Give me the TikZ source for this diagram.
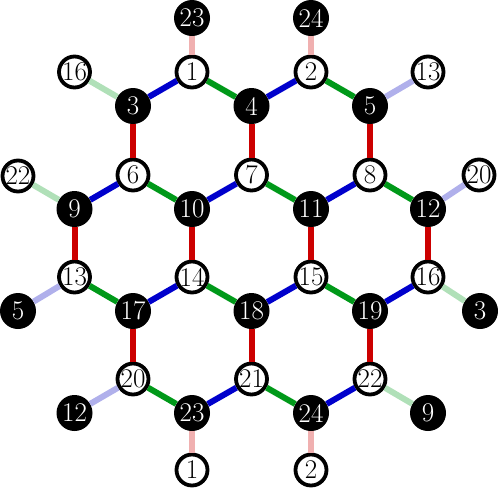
\documentclass[tikz,border=0pt]{standalone}
\usepackage{fontspec}
\setmainfont{Latin Modern Roman}
\begin{document}
\begin{tikzpicture}[x=1pt,y=-1pt,
  wn/.style={circle,draw=black,fill=white,line width=3.8pt,minimum size=31pt,inner sep=0pt,font=\fontsize{27}{27}\selectfont},
  bn/.style={circle,fill=black,text=white,minimum size=36pt,inner sep=0pt,font=\fontsize{27}{27}\selectfont},
  ered/.style={line width=6pt,draw={rgb,255:red,204;green,0;blue,0}},
  eblue/.style={line width=6pt,draw={rgb,255:red,0;green,0;blue,204}},
  egreen/.style={line width=6pt,draw={rgb,255:red,0;green,153;blue,25}},
  pred/.style={line width=6pt,draw={rgb,255:red,240;green,176;blue,176}},
  pblue/.style={line width=6pt,draw={rgb,255:red,176;green,176;blue,235}},
  pgreen/.style={line width=6pt,draw={rgb,255:red,176;green,224;blue,184}}]
\useasboundingbox (0,0) rectangle (498,491);
% lattice nodes
\node[wn] (n1) at (192,72) {1};
\node[wn] (n2) at (311,72) {2};
\node[bn] (n3) at (133,106) {3};
\node[bn] (n4) at (251.5,106) {4};
\node[bn] (n5) at (370,106) {5};
\node[wn] (n6) at (133,175) {6};
\node[wn] (n7) at (251.5,175) {7};
\node[wn] (n8) at (370,175) {8};
\node[bn] (n9) at (74.5,209) {9};
\node[bn] (n10) at (192,209) {10};
\node[bn] (n11) at (311,209) {11};
\node[bn] (n12) at (428,209) {12};
\node[wn] (n13) at (74.5,277) {13};
\node[wn] (n14) at (192,277) {14};
\node[wn] (n15) at (311,277) {15};
\node[wn] (n16) at (428,277) {16};
\node[bn] (n17) at (133,311) {17};
\node[bn] (n18) at (251.5,311) {18};
\node[bn] (n19) at (370,311) {19};
\node[wn] (n20) at (133,379) {20};
\node[wn] (n21) at (251.5,379) {21};
\node[wn] (n22) at (370,379) {22};
\node[bn] (n23) at (192,413) {23};
\node[bn] (n24) at (311,413) {24};
% pendant nodes
\node[bn] (l23) at (192,18) {23};
\node[bn] (l24) at (311,18) {24};
\node[wn] (l16) at (74.5,72) {16};
\node[wn] (l13) at (428,72) {13};
\node[wn] (l22) at (18,176) {22};
\node[wn] (l20) at (479,175) {20};
\node[bn] (l5) at (18,311) {5};
\node[bn] (l3) at (480,311) {3};
\node[bn] (l12) at (74.5,413) {12};
\node[bn] (l9) at (428,413) {9};
\node[wn] (l1) at (192,470) {1};
\node[wn] (l2) at (311,470) {2};
% edges
\draw[pred] (l23) -- (n1);
\draw[pred] (l24) -- (n2);
\draw[pgreen] (l16) -- (n3);
\draw[pblue] (l13) -- (n5);
\draw[pgreen] (l22) -- (n9);
\draw[pblue] (l20) -- (n12);
\draw[pblue] (l5) -- (n13);
\draw[pgreen] (l3) -- (n16);
\draw[pblue] (l12) -- (n20);
\draw[pgreen] (l9) -- (n22);
\draw[pred] (l1) -- (n23);
\draw[pred] (l2) -- (n24);
\draw[eblue] (n1) -- (n3);
\draw[egreen] (n1) -- (n4);
\draw[eblue] (n2) -- (n4);
\draw[egreen] (n2) -- (n5);
\draw[ered] (n3) -- (n6);
\draw[ered] (n4) -- (n7);
\draw[ered] (n5) -- (n8);
\draw[eblue] (n6) -- (n9);
\draw[egreen] (n6) -- (n10);
\draw[eblue] (n7) -- (n10);
\draw[egreen] (n7) -- (n11);
\draw[eblue] (n8) -- (n11);
\draw[egreen] (n8) -- (n12);
\draw[ered] (n9) -- (n13);
\draw[ered] (n10) -- (n14);
\draw[ered] (n11) -- (n15);
\draw[ered] (n12) -- (n16);
\draw[egreen] (n13) -- (n17);
\draw[eblue] (n14) -- (n17);
\draw[egreen] (n14) -- (n18);
\draw[eblue] (n15) -- (n18);
\draw[egreen] (n15) -- (n19);
\draw[eblue] (n16) -- (n19);
\draw[ered] (n17) -- (n20);
\draw[ered] (n18) -- (n21);
\draw[ered] (n19) -- (n22);
\draw[egreen] (n20) -- (n23);
\draw[eblue] (n21) -- (n23);
\draw[egreen] (n21) -- (n24);
\draw[eblue] (n22) -- (n24);
\end{tikzpicture}
\end{document}
